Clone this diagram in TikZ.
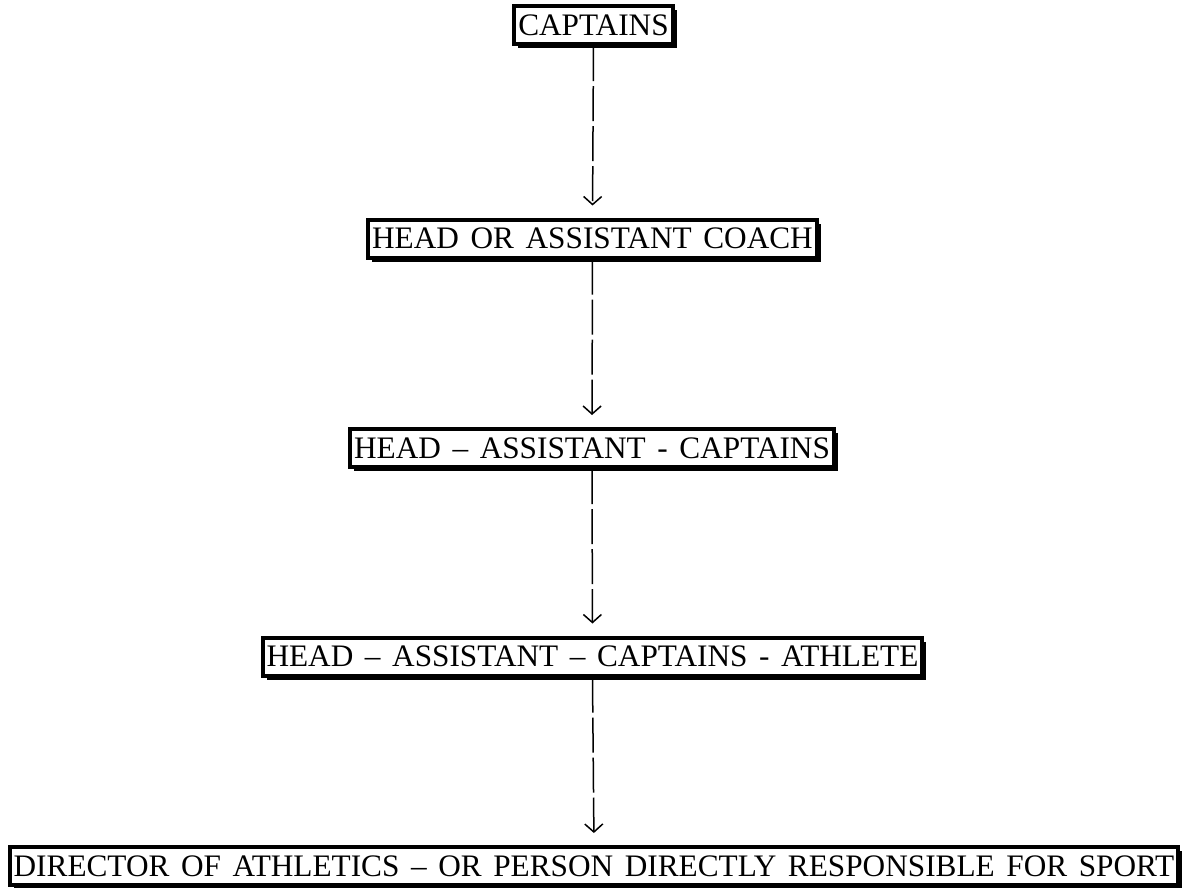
\documentclass[tikz,border=0pt]{standalone}
\usepackage{fontspec}
\setmainfont{Liberation Serif}
\usetikzlibrary{arrows.meta,shadows}
\begin{document}
\begin{tikzpicture}[
	rolebox/.style={draw,line width=0.04cm,fill=white,inner xsep=0.04cm,inner ysep=0pt,minimum height=0.38cm,
		font=\fontsize{8.9}{10}\selectfont,execute at begin node={\spaceskip=3.3pt\relax},
		drop shadow={shadow xshift=0.04cm,shadow yshift=-0.04cm,opacity=1,fill=black}},
	link/.style={line width=0.015cm,dash pattern=on 0.35cm off 0.05cm,-{Straight Barb[length=0.08cm,width=0.18cm]},shorten >=0.12cm}]
				\useasboundingbox (0,0) rectangle (11.82,-8.88);
					\node[rolebox] (capt) at (5.935,-0.25) {CAPTAINS};
					\node[rolebox] (coach) at (5.925,-2.385) {HEAD OR ASSISTANT COACH};
					\node[rolebox] (hac) at (5.92,-4.48) {HEAD -- ASSISTANT - CAPTAINS};
					\node[rolebox] (haca) at (5.925,-6.565) {HEAD -- ASSISTANT -- CAPTAINS - ATHLETE};
					\node[rolebox] (dir) at (5.94,-8.66) {DIRECTOR OF ATHLETICS -- OR PERSON DIRECTLY RESPONSIBLE FOR SPORT};
					\draw[link] (capt.south) -- (coach.north);
					\draw[link] (coach.south) -- (hac.north);
					\draw[link] (hac.south) -- (haca.north);
					\draw[link] (haca.south) -- (dir.north);
			\end{tikzpicture}
\end{document}
